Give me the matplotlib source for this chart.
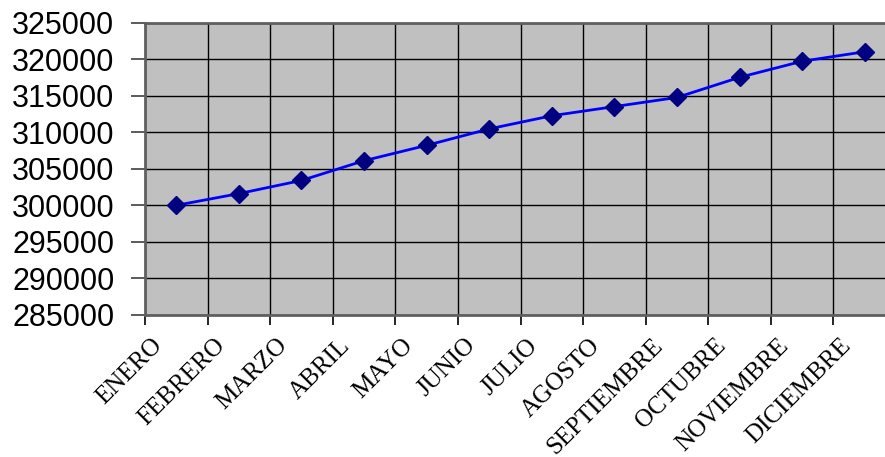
import matplotlib.pyplot as plt
from matplotlib.ticker import MultipleLocator, FixedLocator
from matplotlib.transforms import ScaledTranslation

meses = ['ENERO', 'FEBRERO', 'MARZO', 'ABRIL', 'MAYO', 'JUNIO', 'JULIO',
         'AGOSTO', 'SEPTIEMBRE', 'OCTUBRE', 'NOVIEMBRE', 'DICIEMBRE']
valores = [300000, 301600, 303400, 306100, 308200, 310450, 312250,
           313500, 314750, 317500, 319700, 321000]

fig = plt.figure(figsize=(8.85, 4.57), dpi=100)
# the plot area runs past the right edge, like the original
ax = fig.add_axes([145 / 885, 1 - 315 / 457, 751 / 885, 292.5 / 457])
ax.set_facecolor('#c0c0c0')

x = list(range(len(meses)))
ax.plot(x, valores, color='#0000ff', lw=2, marker='D', ms=9,
        mfc='#000080', mec='#000080', zorder=3)

ax.set_xlim(-0.5, len(meses) - 0.5)
ax.set_ylim(285000, 325000)
ax.yaxis.set_major_locator(MultipleLocator(5000))
ax.xaxis.set_major_locator(FixedLocator([i - 0.5 for i in range(len(meses) + 1)]))
ax.xaxis.set_minor_locator(FixedLocator(x))
ax.xaxis.set_major_formatter(plt.NullFormatter())
ax.set_xticks(x, meses, minor=True)
ax.tick_params(axis='x', which='minor', length=0, pad=14)
ax.tick_params(axis='x', which='major', length=7, width=1.2, color='black')
ax.tick_params(axis='y', length=10, width=1.2, color='#404040', pad=12)

shift = ScaledTranslation(-25 / 100, 0, fig.dpi_scale_trans)
for lab in ax.get_xticklabels(minor=True):
    lab.set_rotation(45)
    lab.set_ha('right')
    lab.set_va('top')
    lab.set_rotation_mode('anchor')
    lab.set_family('Liberation Serif')
    lab.set_fontsize(18)
    lab.set_transform(lab.get_transform() + shift)
for lab in ax.get_yticklabels():
    lab.set_family('Liberation Sans')
    lab.set_fontsize(22)

ax.grid(True, which='major', color='black', lw=1)
ax.set_axisbelow(True)
for s in ['top', 'left', 'bottom']:
    ax.spines[s].set_color('#606060')
    ax.spines[s].set_linewidth(2)
ax.spines['right'].set_visible(False)

fig.savefig('out.png', dpi=100)
